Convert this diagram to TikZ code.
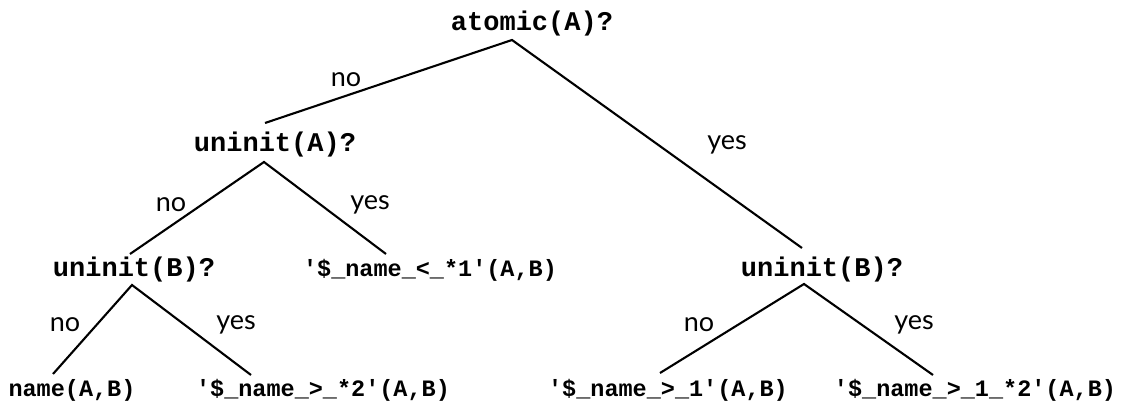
\documentclass[tikz,border=0pt]{standalone}
\usepackage{fontspec}
\newfontfamily\codefont{Liberation Mono}
\newfontfamily\labelfont{Lato}

\begin{document}
\begin{tikzpicture}[x=1pt, y=1pt, line width=2.1pt,
    test/.style={font=\codefont\bfseries\fontsize{27}{30}\selectfont, anchor=base, inner sep=0pt},
    leaf/.style={font=\codefont\bfseries\fontsize{23.5}{27}\selectfont, anchor=base, inner sep=0pt},
    answer/.style={font=\labelfont\fontsize{27}{30}\selectfont, inner sep=0pt}]
          \useasboundingbox (0,0) rectangle (1122,-403);

          % tests
          \node[test] (root) at (532,-31) {atomic(A)?};
          \node[test] (uA)   at (275,-152) {uninit(A)?};
          \node[test] (uBl)  at (134,-277) {uninit(B)?};
          \node[test] (uBr)  at (822,-277) {uninit(B)?};

          % results
          \node[leaf] (lt1)  at (430,-277) {'\$\_name\_<\_*1'(A,B)};
          \node[leaf] (nm)   at (72,-396)  {name(A,B)};
          \node[leaf] (gt2)  at (323,-396) {'\$\_name\_>\_*2'(A,B)};
          \node[leaf] (gt1)  at (668,-396) {'\$\_name\_>\_1'(A,B)};
          \node[leaf] (gt12) at (975,-396) {'\$\_name\_>\_1\_*2'(A,B)};

          % branches
          \draw ([xshift=-10pt,yshift=29pt]uA.base) -- ([xshift=-20pt,yshift=-9pt]root.base)
                -- ([xshift=-20pt,yshift=29pt]uBr.base);
          \draw ([xshift=-4pt,yshift=23pt]uBl.base) -- ([xshift=-11pt,yshift=-10pt]uA.base)
                -- ([xshift=-44pt,yshift=23pt]lt1.base);
          \draw ([xshift=-19pt,yshift=22pt]nm.base) -- ([xshift=-2pt,yshift=-8pt]uBl.base)
                -- ([xshift=-72pt,yshift=21pt]gt2.base);
          \draw ([xshift=-8pt,yshift=23pt]gt1.base) -- ([xshift=-18pt,yshift=-7pt]uBr.base)
                -- ([xshift=-42pt,yshift=21pt]gt12.base);

          % answers
          \node[answer] (noR)  at (346,-80)  {no};
          \node[answer] (yesR) at (727,-145) {yes};
          \node[answer] (noA)  at (171,-205) {no};
          \node[answer] (yesA) at (370,-205) {yes};
          \node[answer] (noBl) at (65,-325)  {no};
          \node[answer] (yesBl) at (236,-325) {yes};
          \node[answer] (noBr) at (699,-325) {no};
          \node[answer] (yesBr) at (914,-325) {yes};
        \end{tikzpicture}
\end{document}
